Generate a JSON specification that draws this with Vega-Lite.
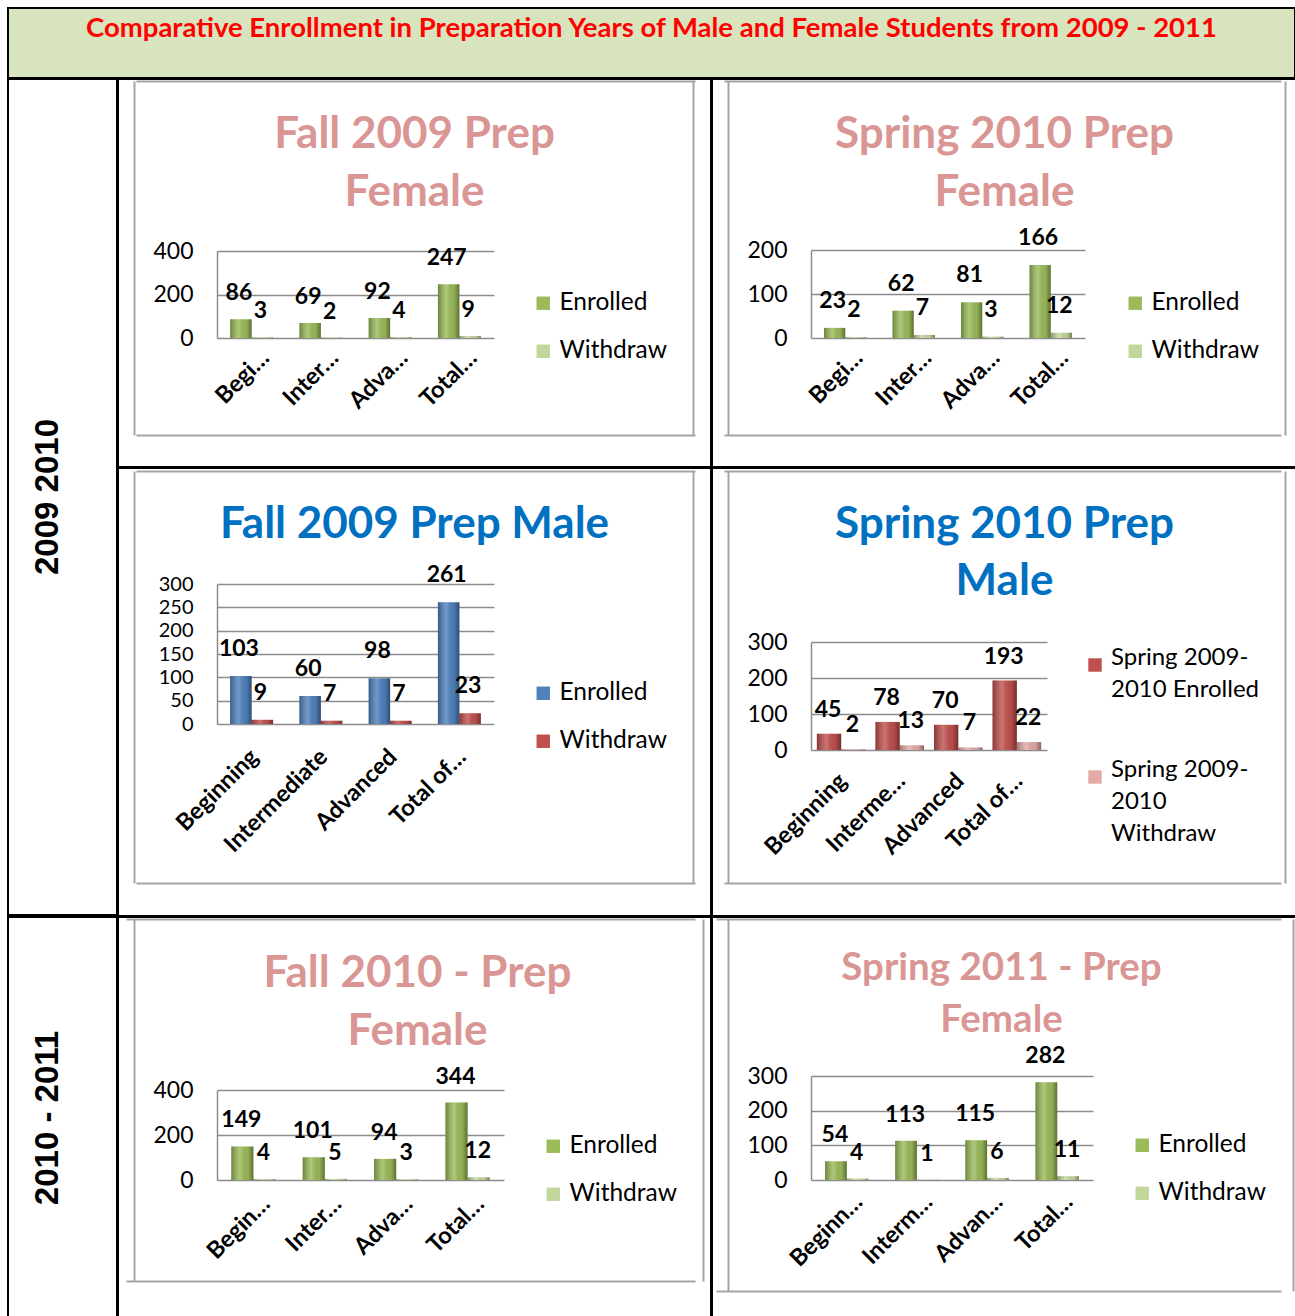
{
  "$schema": "https://vega.github.io/schema/vega-lite/v6.json",
  "padding": {"left": 7, "top": 7, "right": 0, "bottom": 0},
  "background": "white",
  "spacing": -2,
  "datasets": {
    "fall2009female": [
      {"level": "Beginning", "series": "Enrolled", "value": 86},
      {"level": "Intermediate", "series": "Enrolled", "value": 69},
      {"level": "Advanced", "series": "Enrolled", "value": 92},
      {"level": "Total of students", "series": "Enrolled", "value": 247},
      {"level": "Beginning", "series": "Withdraw", "value": 3},
      {"level": "Intermediate", "series": "Withdraw", "value": 2},
      {"level": "Advanced", "series": "Withdraw", "value": 4},
      {"level": "Total of students", "series": "Withdraw", "value": 9}
    ],
    "spring2010female": [
      {"level": "Beginning", "series": "Enrolled", "value": 23},
      {"level": "Intermediate", "series": "Enrolled", "value": 62},
      {"level": "Advanced", "series": "Enrolled", "value": 81},
      {"level": "Total of students", "series": "Enrolled", "value": 166},
      {"level": "Beginning", "series": "Withdraw", "value": 2},
      {"level": "Intermediate", "series": "Withdraw", "value": 7},
      {"level": "Advanced", "series": "Withdraw", "value": 3},
      {"level": "Total of students", "series": "Withdraw", "value": 12}
    ],
    "fall2009male": [
      {"level": "Beginning", "series": "Enrolled", "value": 103},
      {"level": "Intermediate", "series": "Enrolled", "value": 60},
      {"level": "Advanced", "series": "Enrolled", "value": 98},
      {"level": "Total of students", "series": "Enrolled", "value": 261},
      {"level": "Beginning", "series": "Withdraw", "value": 9},
      {"level": "Intermediate", "series": "Withdraw", "value": 7},
      {"level": "Advanced", "series": "Withdraw", "value": 7},
      {"level": "Total of students", "series": "Withdraw", "value": 23}
    ],
    "spring2010male": [
      {"level": "Beginning", "series": "Spring 2009-2010 Enrolled", "value": 45},
      {"level": "Intermediate", "series": "Spring 2009-2010 Enrolled", "value": 78},
      {"level": "Advanced", "series": "Spring 2009-2010 Enrolled", "value": 70},
      {"level": "Total of students", "series": "Spring 2009-2010 Enrolled", "value": 193},
      {"level": "Beginning", "series": "Spring 2009-2010 Withdraw", "value": 2},
      {"level": "Intermediate", "series": "Spring 2009-2010 Withdraw", "value": 13},
      {"level": "Advanced", "series": "Spring 2009-2010 Withdraw", "value": 7},
      {"level": "Total of students", "series": "Spring 2009-2010 Withdraw", "value": 22}
    ],
    "fall2010female": [
      {"level": "Beginning", "series": "Enrolled", "value": 149},
      {"level": "Intermediate", "series": "Enrolled", "value": 101},
      {"level": "Advanced", "series": "Enrolled", "value": 94},
      {"level": "Total of students", "series": "Enrolled", "value": 344},
      {"level": "Beginning", "series": "Withdraw", "value": 4},
      {"level": "Intermediate", "series": "Withdraw", "value": 5},
      {"level": "Advanced", "series": "Withdraw", "value": 3},
      {"level": "Total of students", "series": "Withdraw", "value": 12}
    ],
    "spring2011female": [
      {"level": "Beginning", "series": "Enrolled", "value": 54},
      {"level": "Intermediate", "series": "Enrolled", "value": 113},
      {"level": "Advanced", "series": "Enrolled", "value": 115},
      {"level": "Total of students", "series": "Enrolled", "value": 282},
      {"level": "Beginning", "series": "Withdraw", "value": 4},
      {"level": "Intermediate", "series": "Withdraw", "value": 1},
      {"level": "Advanced", "series": "Withdraw", "value": 6},
      {"level": "Total of students", "series": "Withdraw", "value": 11}
    ]
  },
  "resolve": {"scale": {"color": "independent", "xOffset": "independent", "x": "independent", "y": "independent"}, "legend": {"color": "independent"}},
  "vconcat": [
    {
      "width": 1287, "height": 70,
      "view": {"fill": "#d7e4bd", "stroke": "#000000", "strokeWidth": 2},
      "data": {"values": [{"heading": "Comparative Enrollment in Preparation Years of Male and Female Students from 2009 - 2011"}]},
      "mark": {"type": "text", "font": "Lato", "fontSize": 27.5, "fontWeight": "bold", "color": "#ff0000", "dy": -14},
      "encoding": {"text": {"field": "heading", "type": "nominal"}}
    },
    {
      "spacing": -2,
      "resolve": {"scale": {"color": "independent", "xOffset": "independent", "x": "independent", "y": "independent"}, "legend": {"color": "independent"}},
      "hconcat": [
        {
          "width": 109, "height": 836,
          "view": {"fill": "#ffffff", "stroke": "#000000", "strokeWidth": 2},
          "data": {"values": [{"years": "2009 2010"}]},
          "mark": {"type": "text", "angle": 270, "font": "Liberation Sans", "fontSize": 33, "fontWeight": "bold", "color": "#000000", "dy": -15},
          "encoding": {"text": {"field": "years", "type": "nominal"}}
        },
        {
          "spacing": -2,
          "resolve": {"scale": {"color": "independent", "xOffset": "independent", "x": "independent", "y": "independent"}, "legend": {"color": "independent"}},
          "vconcat": [
            {
              "spacing": -2,
              "resolve": {"scale": {"color": "independent", "xOffset": "independent", "x": "independent", "y": "independent"}, "legend": {"color": "independent"}},
              "hconcat": [
                {
                  "width": 593, "height": 388,
                  "data": {"name": "fall2009female"},
                  "title": {"text": ["Fall 2009 Prep", "Female"], "color": "#d99694", "fontSize": 44, "lineHeight": 58, "offset": -136},
                  "resolve": {"scale": {"x": "independent", "y": "independent"}, "axis": {"x": "independent", "y": "independent"}},
                  "layer": [
                    {
                      "mark": {"type": "point", "opacity": 0},
                      "encoding": {
                        "x": {"datum": 0, "type": "quantitative", "scale": {"domain": [0, 1], "range": [16, 575]}, "axis": {"orient": "top", "values": [0, 1], "grid": true, "gridColor": "#a5a5a5", "gridWidth": 2, "domain": false, "labels": false, "ticks": false, "title": null}},
                        "y": {"datum": 0, "type": "quantitative", "scale": {"domain": [0, 1], "range": [356, 2]}, "axis": {"orient": "right", "values": [0, 1], "grid": true, "gridColor": "#a5a5a5", "gridWidth": 2, "domain": false, "labels": false, "ticks": false, "title": null}}
                      }
                    },
                    {
                      "encoding": {
                        "x": {"field": "level", "type": "nominal", "sort": ["Beginning", "Intermediate", "Advanced", "Total of students"], "scale": {"range": [99, 376], "paddingInner": 0.38, "paddingOuter": 0.19}, "axis": {"orient": "bottom", "title": null, "offset": -129, "labelOffset": 14, "labelPadding": 16, "labelExpr": "datum.value == 'Beginning' ? 'Begi…' : datum.value == 'Intermediate' ? 'Inter…' : datum.value == 'Advanced' ? 'Adva…' : 'Total…'"}},
                        "xOffset": {"field": "series", "type": "nominal", "sort": ["Enrolled", "Withdraw"]},
                        "y": {"field": "value", "type": "quantitative", "scale": {"domain": [0, 400], "range": [259, 172], "nice": false}, "axis": {"orient": "left", "title": null, "offset": -99, "grid": true, "gridColor": "#8c8c8c", "gridWidth": 1.5, "domainColor": "#8c8c8c", "domainWidth": 1.5, "values": [0, 200, 400]}}
                      },
                      "layer": [
                        {"mark": {"type": "bar"}, "encoding": {"color": {"field": "series", "type": "nominal", "scale": {"domain": ["Enrolled", "Withdraw"], "range": ["#9bbb59", "#c4d79b"]}, "legend": {"orient": "none", "legendX": 413, "legendY": 212, "rowPadding": 23}}}},
                        {"mark": {"type": "bar", "fill": {"gradient": "linear", "x1": 0, "x2": 1, "y1": 0, "y2": 0, "stops": [{"offset": 0, "color": "rgba(0,0,0,0.3)"}, {"offset": 0.4, "color": "rgba(255,255,255,0.2)"}, {"offset": 0.75, "color": "rgba(0,0,0,0.05)"}, {"offset": 1, "color": "rgba(0,0,0,0.4)"}]}}},
                        {"mark": {"type": "text", "dy": -26, "dx": -2, "font": "Lato", "fontSize": 23, "fontWeight": "bold", "color": "#000000"}, "encoding": {"text": {"field": "value", "type": "quantitative"}}}
                      ]
                    }
                  ]
                },
                {
                  "width": 585, "height": 388,
                  "data": {"name": "spring2010female"},
                  "title": {"text": ["Spring 2010 Prep", "Female"], "color": "#d99694", "fontSize": 44, "lineHeight": 58, "offset": -136},
                  "resolve": {"scale": {"x": "independent", "y": "independent"}, "axis": {"x": "independent", "y": "independent"}},
                  "layer": [
                    {
                      "mark": {"type": "point", "opacity": 0},
                      "encoding": {
                        "x": {"datum": 0, "type": "quantitative", "scale": {"domain": [0, 1], "range": [16, 573]}, "axis": {"orient": "top", "values": [0, 1], "grid": true, "gridColor": "#a5a5a5", "gridWidth": 2, "domain": false, "labels": false, "ticks": false, "title": null}},
                        "y": {"datum": 0, "type": "quantitative", "scale": {"domain": [0, 1], "range": [356, 2]}, "axis": {"orient": "right", "values": [0, 1], "grid": true, "gridColor": "#a5a5a5", "gridWidth": 2, "domain": false, "labels": false, "ticks": false, "title": null}}
                      }
                    },
                    {
                      "encoding": {
                        "x": {"field": "level", "type": "nominal", "sort": ["Beginning", "Intermediate", "Advanced", "Total of students"], "scale": {"range": [99, 373], "paddingInner": 0.38, "paddingOuter": 0.19}, "axis": {"orient": "bottom", "title": null, "offset": -129, "labelOffset": 14, "labelPadding": 16, "labelExpr": "datum.value == 'Beginning' ? 'Begi…' : datum.value == 'Intermediate' ? 'Inter…' : datum.value == 'Advanced' ? 'Adva…' : 'Total…'"}},
                        "xOffset": {"field": "series", "type": "nominal", "sort": ["Enrolled", "Withdraw"]},
                        "y": {"field": "value", "type": "quantitative", "scale": {"domain": [0, 200], "range": [259, 171], "nice": false}, "axis": {"orient": "left", "title": null, "offset": -99, "grid": true, "gridColor": "#8c8c8c", "gridWidth": 1.5, "domainColor": "#8c8c8c", "domainWidth": 1.5, "values": [0, 100, 200]}}
                      },
                      "layer": [
                        {"mark": {"type": "bar"}, "encoding": {"color": {"field": "series", "type": "nominal", "scale": {"domain": ["Enrolled", "Withdraw"], "range": ["#9bbb59", "#c4d79b"]}, "legend": {"orient": "none", "legendX": 411, "legendY": 212, "rowPadding": 23}}}},
                        {"mark": {"type": "bar", "fill": {"gradient": "linear", "x1": 0, "x2": 1, "y1": 0, "y2": 0, "stops": [{"offset": 0, "color": "rgba(0,0,0,0.3)"}, {"offset": 0.4, "color": "rgba(255,255,255,0.2)"}, {"offset": 0.75, "color": "rgba(0,0,0,0.05)"}, {"offset": 1, "color": "rgba(0,0,0,0.4)"}]}}},
                        {"mark": {"type": "text", "dy": -27, "dx": -2, "font": "Lato", "fontSize": 23, "fontWeight": "bold", "color": "#000000"}, "encoding": {"text": {"field": "value", "type": "quantitative"}}}
                      ]
                    }
                  ]
                }
              ]
            },
            {
              "spacing": -2,
              "resolve": {"scale": {"color": "independent", "xOffset": "independent", "x": "independent", "y": "independent"}, "legend": {"color": "independent"}},
              "hconcat": [
                {
                  "width": 593, "height": 448,
                  "data": {"name": "fall2009male"},
                  "title": {"text": "Fall 2009 Prep Male", "color": "#0070c0", "fontSize": 44, "offset": -79},
                  "resolve": {"scale": {"x": "independent", "y": "independent"}, "axis": {"x": "independent", "y": "independent"}},
                  "layer": [
                    {
                      "mark": {"type": "point", "opacity": 0},
                      "encoding": {
                        "x": {"datum": 0, "type": "quantitative", "scale": {"domain": [0, 1], "range": [16, 575]}, "axis": {"orient": "top", "values": [0, 1], "grid": true, "gridColor": "#a5a5a5", "gridWidth": 2, "domain": false, "labels": false, "ticks": false, "title": null}},
                        "y": {"datum": 0, "type": "quantitative", "scale": {"domain": [0, 1], "range": [415, 3]}, "axis": {"orient": "right", "values": [0, 1], "grid": true, "gridColor": "#a5a5a5", "gridWidth": 2, "domain": false, "labels": false, "ticks": false, "title": null}}
                      }
                    },
                    {
                      "encoding": {
                        "x": {"field": "level", "type": "nominal", "sort": ["Beginning", "Intermediate", "Advanced", "Total of students"], "scale": {"range": [99, 376], "paddingInner": 0.38, "paddingOuter": 0.19}, "axis": {"orient": "bottom", "title": null, "offset": -192, "labelOffset": 3, "labelPadding": 29, "labelExpr": "datum.value == 'Total of students' ? 'Total of…' : datum.value"}},
                        "xOffset": {"field": "series", "type": "nominal", "sort": ["Enrolled", "Withdraw"]},
                        "y": {"field": "value", "type": "quantitative", "scale": {"domain": [0, 300], "range": [256, 116], "nice": false}, "axis": {"orient": "left", "title": null, "offset": -99, "grid": true, "gridColor": "#8c8c8c", "gridWidth": 1.5, "domainColor": "#8c8c8c", "domainWidth": 1.5, "labelFontSize": 20, "values": [0, 50, 100, 150, 200, 250, 300]}}
                      },
                      "layer": [
                        {"mark": {"type": "bar"}, "encoding": {"color": {"field": "series", "type": "nominal", "scale": {"domain": ["Enrolled", "Withdraw"], "range": ["#4f81bd", "#c0504d"]}, "legend": {"orient": "none", "legendX": 413, "legendY": 213, "rowPadding": 23}}}},
                        {"mark": {"type": "bar", "fill": {"gradient": "linear", "x1": 0, "x2": 1, "y1": 0, "y2": 0, "stops": [{"offset": 0, "color": "rgba(0,0,0,0.3)"}, {"offset": 0.4, "color": "rgba(255,255,255,0.2)"}, {"offset": 0.75, "color": "rgba(0,0,0,0.05)"}, {"offset": 1, "color": "rgba(0,0,0,0.4)"}]}}},
                        {"mark": {"type": "text", "dy": -27, "dx": -2, "font": "Lato", "fontSize": 23, "fontWeight": "bold", "color": "#000000"}, "encoding": {"text": {"field": "value", "type": "quantitative"}}}
                      ]
                    }
                  ]
                },
                {
                  "width": 585, "height": 448,
                  "data": {"name": "spring2010male"},
                  "title": {"text": ["Spring 2010 Prep", "Male"], "color": "#0070c0", "fontSize": 44, "lineHeight": 57, "offset": -136},
                  "resolve": {"scale": {"x": "independent", "y": "independent"}, "axis": {"x": "independent", "y": "independent"}},
                  "layer": [
                    {
                      "mark": {"type": "point", "opacity": 0},
                      "encoding": {
                        "x": {"datum": 0, "type": "quantitative", "scale": {"domain": [0, 1], "range": [16, 573]}, "axis": {"orient": "top", "values": [0, 1], "grid": true, "gridColor": "#a5a5a5", "gridWidth": 2, "domain": false, "labels": false, "ticks": false, "title": null}},
                        "y": {"datum": 0, "type": "quantitative", "scale": {"domain": [0, 1], "range": [415, 3]}, "axis": {"orient": "right", "values": [0, 1], "grid": true, "gridColor": "#a5a5a5", "gridWidth": 2, "domain": false, "labels": false, "ticks": false, "title": null}}
                      }
                    },
                    {
                      "encoding": {
                        "x": {"field": "level", "type": "nominal", "sort": ["Beginning", "Intermediate", "Advanced", "Total of students"], "scale": {"range": [99, 335], "paddingInner": 0.17, "paddingOuter": 0.1}, "axis": {"orient": "bottom", "title": null, "offset": -166, "labelOffset": 2, "labelPadding": 27, "labelExpr": "datum.value == 'Intermediate' ? 'Interme…' : datum.value == 'Total of students' ? 'Total of…' : datum.value"}},
                        "xOffset": {"field": "series", "type": "nominal", "sort": ["Spring 2009-2010 Enrolled", "Spring 2009-2010 Withdraw"]},
                        "y": {"field": "value", "type": "quantitative", "scale": {"domain": [0, 300], "range": [282, 174], "nice": false}, "axis": {"orient": "left", "title": null, "offset": -99, "grid": true, "gridColor": "#8c8c8c", "gridWidth": 1.5, "domainColor": "#8c8c8c", "domainWidth": 1.5, "values": [0, 100, 200, 300]}}
                      },
                      "layer": [
                        {"mark": {"type": "bar"}, "encoding": {"color": {"field": "series", "type": "nominal", "scale": {"domain": ["Spring 2009-2010 Enrolled", "Spring 2009-2010 Withdraw"], "range": ["#c0504d", "#e3aaa8"]}, "legend": {"orient": "none", "legendX": 371, "legendY": 185, "rowPadding": 56, "labelFontSize": 24, "labelBaseline": "alphabetic", "labelExpr": "datum.label == 'Spring 2009-2010 Enrolled' ? ['Spring 2009-', '2010 Enrolled'] : ['Spring 2009-', '2010', 'Withdraw']"}}}},
                        {"mark": {"type": "bar", "fill": {"gradient": "linear", "x1": 0, "x2": 1, "y1": 0, "y2": 0, "stops": [{"offset": 0, "color": "rgba(0,0,0,0.3)"}, {"offset": 0.4, "color": "rgba(255,255,255,0.2)"}, {"offset": 0.75, "color": "rgba(0,0,0,0.05)"}, {"offset": 1, "color": "rgba(0,0,0,0.4)"}]}}},
                        {"mark": {"type": "text", "dy": -24, "dx": -1, "font": "Lato", "fontSize": 23, "fontWeight": "bold", "color": "#000000"}, "encoding": {"text": {"field": "value", "type": "quantitative"}}}
                      ]
                    }
                  ]
                }
              ]
            }
          ]
        }
      ]
    },
    {
      "spacing": -2,
      "resolve": {"scale": {"color": "independent", "xOffset": "independent", "x": "independent", "y": "independent"}, "legend": {"color": "independent"}},
      "hconcat": [
        {
          "width": 109, "height": 402,
          "view": {"fill": "#ffffff", "stroke": "#000000", "strokeWidth": 2},
          "data": {"values": [{"years": "2010 - 2011"}]},
          "mark": {"type": "text", "angle": 270, "font": "Liberation Sans", "fontSize": 33, "fontWeight": "bold", "color": "#000000", "dy": -15},
          "encoding": {"text": {"field": "years", "type": "nominal"}}
        },
        {
          "width": 593, "height": 402,
          "data": {"name": "fall2010female"},
          "title": {"text": ["Fall 2010 - Prep", "Female"], "color": "#d99694", "fontSize": 44, "lineHeight": 58, "offset": -137, "dx": 3},
          "resolve": {"scale": {"x": "independent", "y": "independent"}, "axis": {"x": "independent", "y": "independent"}},
          "layer": [
            {
              "mark": {"type": "point", "opacity": 0},
              "encoding": {
                "x": {"datum": 0, "type": "quantitative", "scale": {"domain": [0, 1], "range": [16, 585]}, "axis": {"orient": "top", "values": [0, 1], "grid": true, "gridColor": "#a5a5a5", "gridWidth": 2, "domain": false, "labels": false, "ticks": false, "title": null}},
                "y": {"datum": 0, "type": "quantitative", "scale": {"domain": [0, 1], "range": [364, 2]}, "axis": {"orient": "right", "values": [0, 1], "grid": true, "gridColor": "#a5a5a5", "gridWidth": 2, "domain": false, "labels": false, "ticks": false, "title": null}}
              }
            },
            {
              "encoding": {
                "x": {"field": "level", "type": "nominal", "sort": ["Beginning", "Intermediate", "Advanced", "Total of students"], "scale": {"range": [99, 386], "paddingInner": 0.38, "paddingOuter": 0.2}, "axis": {"orient": "bottom", "title": null, "offset": -139, "labelOffset": 13, "labelPadding": 20, "labelExpr": "datum.value == 'Beginning' ? 'Begin…' : datum.value == 'Intermediate' ? 'Inter…' : datum.value == 'Advanced' ? 'Adva…' : 'Total…'"}},
                "xOffset": {"field": "series", "type": "nominal", "sort": ["Enrolled", "Withdraw"]},
                "y": {"field": "value", "type": "quantitative", "scale": {"domain": [0, 400], "range": [263, 173], "nice": false}, "axis": {"orient": "left", "title": null, "offset": -99, "grid": true, "gridColor": "#8c8c8c", "gridWidth": 1.5, "domainColor": "#8c8c8c", "domainWidth": 1.5, "values": [0, 200, 400]}}
              },
              "layer": [
                {"mark": {"type": "bar"}, "encoding": {"color": {"field": "series", "type": "nominal", "scale": {"domain": ["Enrolled", "Withdraw"], "range": ["#9bbb59", "#c4d79b"]}, "legend": {"orient": "none", "legendX": 423, "legendY": 217, "rowPadding": 23}}}},
                {"mark": {"type": "bar", "fill": {"gradient": "linear", "x1": 0, "x2": 1, "y1": 0, "y2": 0, "stops": [{"offset": 0, "color": "rgba(0,0,0,0.3)"}, {"offset": 0.4, "color": "rgba(255,255,255,0.2)"}, {"offset": 0.75, "color": "rgba(0,0,0,0.05)"}, {"offset": 1, "color": "rgba(0,0,0,0.4)"}]}}},
                {"mark": {"type": "text", "dy": -26, "dx": -1, "font": "Lato", "fontSize": 23, "fontWeight": "bold", "color": "#000000"}, "encoding": {"text": {"field": "value", "type": "quantitative"}}}
              ]
            }
          ]
        },
        {
          "width": 585, "height": 402,
          "data": {"name": "spring2011female"},
          "title": {"text": ["Spring 2011 - Prep", "Female"], "color": "#d99694", "fontSize": 38.5, "lineHeight": 52, "offset": -123, "dx": -3},
          "resolve": {"scale": {"x": "independent", "y": "independent"}, "axis": {"x": "independent", "y": "independent"}},
          "layer": [
            {
              "mark": {"type": "point", "opacity": 0},
              "encoding": {
                "x": {"datum": 0, "type": "quantitative", "scale": {"domain": [0, 1], "range": [16, 581]}, "axis": {"orient": "top", "values": [0, 1], "grid": true, "gridColor": "#a5a5a5", "gridWidth": 2, "domain": false, "labels": false, "ticks": false, "title": null}},
                "y": {"datum": 0, "type": "quantitative", "scale": {"domain": [0, 1], "range": [374, 2]}, "axis": {"orient": "right", "values": [0, 1], "grid": true, "gridColor": "#a5a5a5", "gridWidth": 2, "domain": false, "labels": false, "ticks": false, "title": null}}
              }
            },
            {
              "encoding": {
                "x": {"field": "level", "type": "nominal", "sort": ["Beginning", "Intermediate", "Advanced", "Total of students"], "scale": {"range": [99, 381], "paddingInner": 0.38, "paddingOuter": 0.2}, "axis": {"orient": "bottom", "title": null, "offset": -139, "labelOffset": 12, "labelPadding": 18, "labelExpr": "datum.value == 'Beginning' ? 'Beginn…' : datum.value == 'Intermediate' ? 'Interm…' : datum.value == 'Advanced' ? 'Advan…' : 'Total…'"}},
                "xOffset": {"field": "series", "type": "nominal", "sort": ["Enrolled", "Withdraw"]},
                "y": {"field": "value", "type": "quantitative", "scale": {"domain": [0, 300], "range": [263, 159], "nice": false}, "axis": {"orient": "left", "title": null, "offset": -99, "grid": true, "gridColor": "#8c8c8c", "gridWidth": 1.5, "domainColor": "#8c8c8c", "domainWidth": 1.5, "values": [0, 100, 200, 300]}}
              },
              "layer": [
                {"mark": {"type": "bar"}, "encoding": {"color": {"field": "series", "type": "nominal", "scale": {"domain": ["Enrolled", "Withdraw"], "range": ["#9bbb59", "#c4d79b"]}, "legend": {"orient": "none", "legendX": 418, "legendY": 216, "rowPadding": 23}}}},
                {"mark": {"type": "bar", "fill": {"gradient": "linear", "x1": 0, "x2": 1, "y1": 0, "y2": 0, "stops": [{"offset": 0, "color": "rgba(0,0,0,0.3)"}, {"offset": 0.4, "color": "rgba(255,255,255,0.2)"}, {"offset": 0.75, "color": "rgba(0,0,0,0.05)"}, {"offset": 1, "color": "rgba(0,0,0,0.4)"}]}}},
                {"mark": {"type": "text", "dy": -26, "dx": -1, "font": "Lato", "fontSize": 23, "fontWeight": "bold", "color": "#000000"}, "encoding": {"text": {"field": "value", "type": "quantitative"}}}
              ]
            }
          ]
        }
      ]
    }
  ],
  "config": {
    "view": {"stroke": "#000000", "strokeWidth": 2},
    "concat": {"spacing": -2},
    "style": {"guide-label": {"lineHeight": 32}},
    "axis": {"labelFont": "Lato", "labelColor": "#000000", "ticks": false, "tickSize": 0, "gridColor": "#8c8c8c", "gridWidth": 1.5, "domainColor": "#8c8c8c", "domainWidth": 1.5},
    "axisX": {"labelAngle": -45, "labelAlign": "right", "labelBaseline": "middle", "labelFontSize": 23.5, "labelFontWeight": "bold", "domain": false, "grid": false},
    "axisY": {"labelFontSize": 23, "labelPadding": 24, "grid": true, "domain": true},
    "legend": {"title": null, "symbolType": "square", "symbolSize": 180, "symbolStrokeWidth": 0, "labelFont": "Lato", "labelFontSize": 24.5, "labelColor": "#000000", "labelOffset": 4, "padding": 0, "labelLimit": 300},
    "title": {"font": "Lato", "fontWeight": "bold", "anchor": "middle", "frame": "group", "baseline": "top"}
  }
}
